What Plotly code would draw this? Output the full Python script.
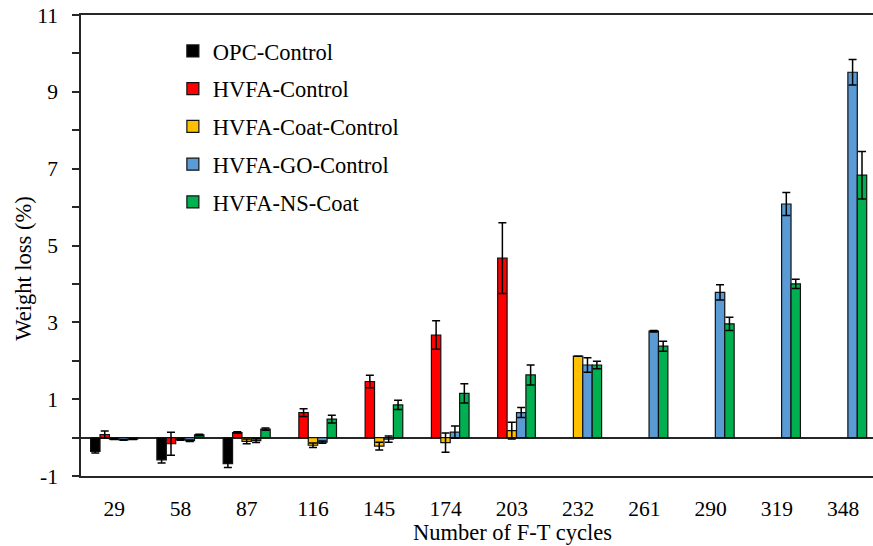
import plotly.graph_objects as go

cycles = ["29", "58", "87", "116", "145", "174", "203", "232", "261", "290", "319", "348"]

series_names = ["OPC-Control", "HVFA-Control", "HVFA-Coat-Control", "HVFA-GO-Control", "HVFA-NS-Coat"]
series_colors = ["#000000", "#FF0000", "#FFC000", "#5B9BD5", "#00B050"]

opc_control = [-0.36, -0.58, -0.68, None, None, None, None, None, None, None, None, None]
opc_control_err = [0.04, 0.08, 0.1, None, None, None, None, None, None, None, None, None]

hvfa_control = [0.08, -0.16, 0.13, 0.65, 1.46, 2.67, 4.67, None, None, None, None, None]
hvfa_control_err = [0.09, 0.3, 0.02, 0.1, 0.16, 0.37, 0.92, None, None, None, None, None]

hvfa_coat_control = [-0.04, -0.05, -0.1, -0.2, -0.22, -0.13, 0.18, 2.12, None, None, None, None]
hvfa_coat_control_err = [0.01, 0.02, 0.06, 0.06, 0.1, 0.25, 0.22, 0.0, None, None, None, None]

hvfa_go_control = [-0.06, -0.08, -0.08, -0.12, -0.04, 0.14, 0.65, 1.89, 2.77, 3.78, 6.08, 9.51]
hvfa_go_control_err = [0.01, 0.02, 0.05, 0.03, 0.08, 0.16, 0.13, 0.19, 0.02, 0.2, 0.3, 0.33]

hvfa_ns_coat = [-0.04, 0.07, 0.22, 0.48, 0.85, 1.15, 1.63, 1.89, 2.38, 2.96, 4.0, 6.83]
hvfa_ns_coat_err = [0.01, 0.02, 0.03, 0.1, 0.12, 0.25, 0.26, 0.1, 0.13, 0.17, 0.12, 0.62]

series_values = [opc_control, hvfa_control, hvfa_coat_control, hvfa_go_control, hvfa_ns_coat]
series_errors = [opc_control_err, hvfa_control_err, hvfa_coat_control_err, hvfa_go_control_err, hvfa_ns_coat_err]

y_tick_vals = list(range(-1, 12))
y_tick_text = ["-1", "", "1", "", "3", "", "5", "", "7", "", "9", "", "11"]

FONT = "Liberation Serif, Times New Roman, serif"

fig = go.Figure()
for name, color, vals, errs in zip(series_names, series_colors, series_values, series_errors):
    fig.add_trace(go.Bar(
        x=cycles, y=vals, name=name, legendgroup=name,
        marker=dict(color=color, line=dict(color="#111111", width=1.2)),
        error_y=dict(type="data", array=errs, symmetric=True, color="#000000",
                     thickness=1.5, width=4),
    ))

fig.update_layout(
    width=873, height=546,
    margin=dict(l=81, r=0, t=15, b=70),
    plot_bgcolor="white", paper_bgcolor="white",
    barmode="group", bargap=0.29, bargroupgap=0,
    font=dict(family=FONT, size=21.5, color="#000000"),
    showlegend=True,
    legend=dict(x=0.116, y=0.968, xanchor="left", yanchor="top",
                font=dict(family=FONT, size=22.5, color="#000000"),
                bgcolor="rgba(0,0,0,0)", tracegroupgap=5.5, itemwidth=30),
    xaxis=dict(type="category", range=[-0.5, 11.45], showline=True, mirror=True,
               linecolor="#262626", linewidth=1.5, ticks="", showgrid=False,
               tickfont=dict(family=FONT, size=21.5), ticklabelstandoff=12),
    yaxis=dict(range=[-1, 11], tickmode="array", tickvals=y_tick_vals, ticktext=y_tick_text,
               showline=True, linecolor="#262626", linewidth=1.5, ticks="outside",
               ticklen=7, tickwidth=1.5, tickcolor="#262626", showgrid=False,
               zeroline=True, zerolinecolor="#262626", zerolinewidth=1.5,
               tickfont=dict(family=FONT, size=21.5), ticklabelstandoff=10),
)

fig.add_annotation(text="Number of F-T cycles", xref="paper", yref="paper",
                   x=0.545, y=-0.1215, xanchor="center", yanchor="middle",
                   showarrow=False, font=dict(family=FONT, size=22.5))
fig.add_annotation(text="Weight loss (%)", xref="paper", yref="paper",
                   x=-0.073, y=0.45, xanchor="center", yanchor="middle", textangle=-90,
                   showarrow=False, font=dict(family=FONT, size=22.5))

fig.write_html("out.html")
